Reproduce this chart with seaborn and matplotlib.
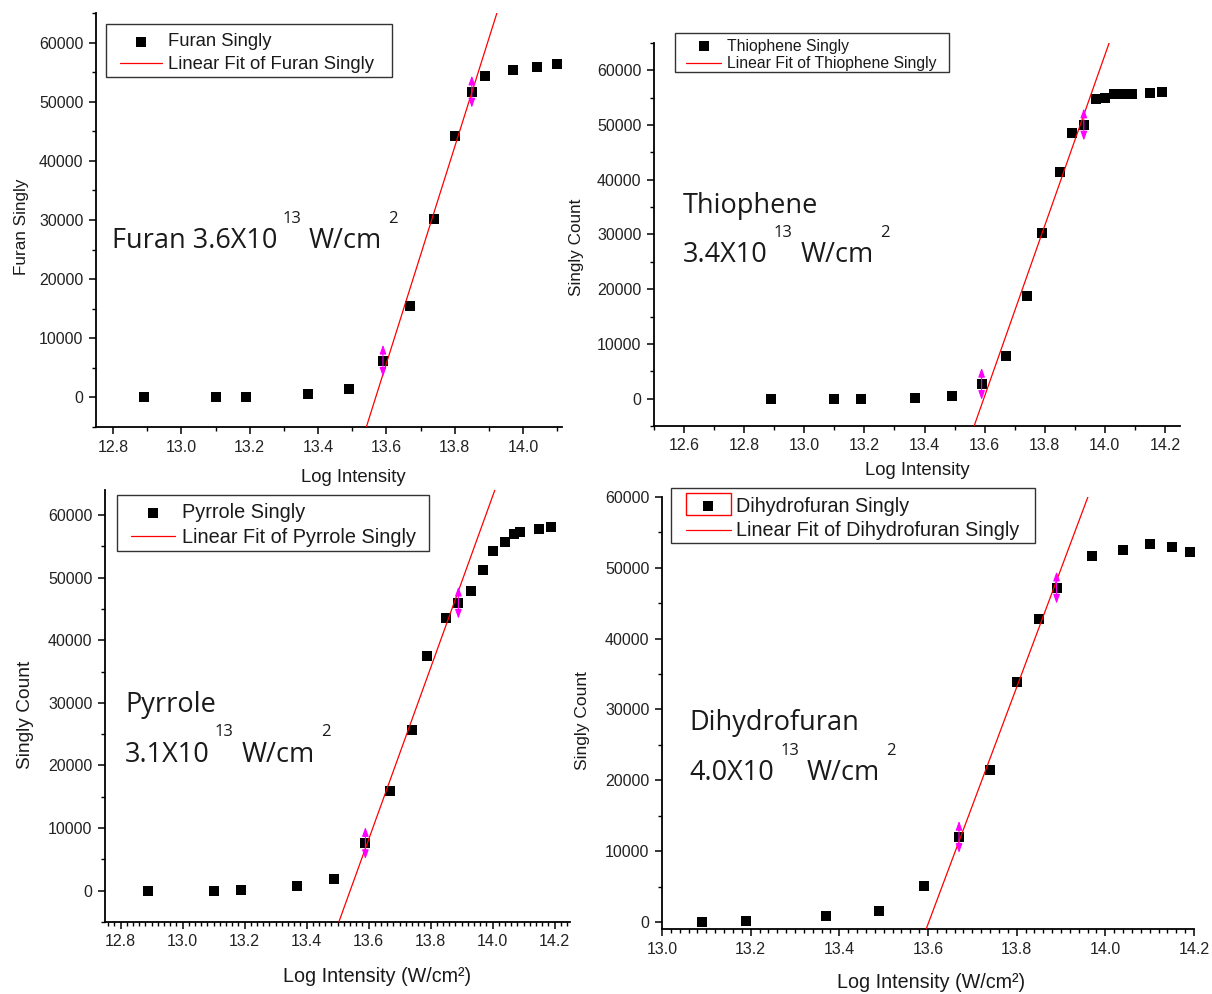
import numpy as np
import pandas as pd
import matplotlib
matplotlib.use("Agg")
import matplotlib.pyplot as plt
import seaborn as sns
from matplotlib.ticker import MultipleLocator, FormatStrFormatter
from matplotlib.patches import Rectangle

# ---- measured single-ionisation counts vs. log10 laser intensity ----
furan_x = [12.89, 13.10, 13.19, 13.37, 13.49, 13.59, 13.67, 13.74, 13.80, 13.85, 13.89, 13.97, 14.04, 14.10]
furan_y = [0, 0, 100, 600, 1500, 6200, 15500, 30200, 44200, 51700, 54400, 55300, 55800, 56300]
furan_fit = (13.59, 13.85)

thio_x = [12.89, 13.10, 13.19, 13.37, 13.49, 13.59, 13.67, 13.74, 13.79, 13.85, 13.89, 13.93,
          13.97, 14.00, 14.03, 14.06, 14.09, 14.15, 14.19]
thio_y = [-100, -100, 0, 100, 500, 2700, 7800, 18700, 30300, 41400, 48500, 50100,
          54700, 55000, 55700, 55700, 55600, 55900, 56100]
thio_fit = (13.59, 13.93)

pyr_x = [12.89, 13.10, 13.19, 13.37, 13.49, 13.59, 13.67, 13.74, 13.79, 13.85, 13.89, 13.93,
         13.97, 14.00, 14.04, 14.07, 14.09, 14.15, 14.19]
pyr_y = [0, 0, 100, 700, 1800, 7600, 16000, 25600, 37500, 43500, 46000, 47900,
         51300, 54300, 55700, 56900, 57300, 57700, 58100]
pyr_fit = (13.59, 13.89)

dhf_x = [13.09, 13.19, 13.37, 13.49, 13.59, 13.67, 13.74, 13.80, 13.85, 13.89, 13.97, 14.04, 14.10, 14.15, 14.19]
dhf_y = [0, 100, 800, 1600, 5100, 12000, 21400, 33900, 42800, 47200, 51700, 52500, 53400, 52900, 52200]
dhf_fit = (13.67, 13.89)

# saturation intensities quoted on each panel
furan_note = ("Furan 3.6X10", "13", "W/cm", "2")
thio_note = ("Thiophene", "3.4X10", "13", "W/cm", "2")
pyr_note = ("Pyrrole", "3.1X10", "13", "W/cm", "2")
dhf_note = ("Dihydrofuran", "4.0X10", "13", "W/cm", "2")

W, H = 1212, 994
sns.set_theme(style="ticks")
plt.rcParams["font.family"] = ["Liberation Sans", "DejaVu Sans"]
plt.rcParams["axes.unicode_minus"] = False

fig = plt.figure(figsize=(W / 100, H / 100), dpi=100)
fig.patch.set_facecolor("white")


def fx(x):
    return x / W


def fy(y):
    return 1 - y / H


def axes_at(l, t, r, b):
    return fig.add_axes([fx(l), fy(b), (r - l) / W, (b - t) / H])


def frame_at(l, t, r, b, color="#333333", lw=1.0):
    fig.patches.append(Rectangle((fx(l), fy(b)), (r - l) / W, (b - t) / H,
                                 transform=fig.transFigure, facecolor="none",
                                 edgecolor=color, lw=lw, zorder=5))


NOTE_FONT = ["Open Sans", "DejaVu Sans"]
TXT = "#1a1a1a"


def draw_panel(ax, x, y, name, fit_rng, xlim, ylim, xminor, box_px, ms,
               tick_fs, ylabel, ylab_fs, ylab_xy, xlabel, xlab_fs, xlab_xy,
               leg_frame, leg_anchor, leg_fs, leg_kw):
    df = pd.DataFrame({"x": x, "y": y})
    sns.scatterplot(data=df, x="x", y="y", ax=ax, marker="s", color="black",
                    s=ms, linewidth=0, label=f"{name} Singly", zorder=2)

    # linear fit over the rising edge, between the two range markers
    sel = df[(df.x >= fit_rng[0] - 1e-9) & (df.x <= fit_rng[1] + 1e-9)]
    slope, icpt = np.polyfit(sel.x, sel.y, 1)
    xf = np.array(xlim)
    sns.lineplot(x=xf, y=slope * xf + icpt, ax=ax, color="red", lw=0.9,
                 label=f"Linear Fit of {name} Singly", zorder=3)

    ax.set_xlim(*xlim)
    ax.set_ylim(*ylim)

    # fit-range markers: small double-headed arrows on the end points
    l, t, r, b = box_px
    d = 16 * (ylim[1] - ylim[0]) / (b - t)
    for xv in fit_rng:
        yv = df.loc[(df.x - xv).abs().idxmin(), "y"]
        ax.annotate("", xy=(xv, yv + d), xytext=(xv, yv - d),
                    arrowprops=dict(arrowstyle="<|-|>,head_length=0.5,head_width=0.18",
                                    color="magenta", lw=0.8, mutation_scale=11,
                                    shrinkA=0, shrinkB=0), zorder=4)

    ax.xaxis.set_major_locator(MultipleLocator(0.2))
    ax.xaxis.set_minor_locator(MultipleLocator(xminor))
    ax.yaxis.set_major_locator(MultipleLocator(10000))
    ax.yaxis.set_minor_locator(MultipleLocator(5000))
    ax.xaxis.set_major_formatter(FormatStrFormatter("%.1f"))
    ax.yaxis.set_major_formatter(FormatStrFormatter("%d"))

    for s in ("top", "right"):
        ax.spines[s].set_visible(False)
    for s in ("left", "bottom"):
        ax.spines[s].set_linewidth(1.3)
        ax.spines[s].set_color("black")
    ax.tick_params(which="major", direction="out", length=5, width=1.1,
                   labelsize=tick_fs, labelcolor="#222222", color="black", pad=4)
    ax.tick_params(which="minor", direction="out", length=3, width=1.0, color="black")
    ax.grid(False)
    ax.set_facecolor("white")

    ax.set_ylabel(ylabel, fontsize=ylab_fs, color=TXT)
    ax.yaxis.set_label_coords(fx(ylab_xy[0]), fy(ylab_xy[1]), transform=fig.transFigure)
    ax.yaxis.label.set_va("center")
    ax.yaxis.label.set_rotation_mode("default")
    ax.set_xlabel(xlabel, fontsize=xlab_fs, color=TXT)
    ax.xaxis.set_label_coords(fx(xlab_xy[0]), fy(xlab_xy[1]), transform=fig.transFigure)
    ax.xaxis.label.set_va("center")

    # legend entries placed at the handle origin; its box is drawn separately
    handles, labels = ax.get_legend_handles_labels()
    leg = ax.legend(handles, labels, loc="upper left",
                    bbox_to_anchor=(fx(leg_anchor[0]), fy(leg_anchor[1])),
                    bbox_transform=fig.transFigure, borderaxespad=0, borderpad=0,
                    frameon=False, fontsize=leg_fs, scatterpoints=1, **leg_kw)
    for txt in leg.get_texts():
        txt.set_color(TXT)
    frame_at(*leg_frame)
    return ax


def note(x, y, s, size):
    fig.text(fx(x), fy(y), s, fontsize=size, family=NOTE_FONT, color=TXT,
             ha="left", va="baseline")


BIG, SUP = 19.5, 12
TICK_FS = 11.5

# ---------------- Furan ----------------
box1 = (96, 13, 562, 427)
ax1 = axes_at(*box1)
draw_panel(ax1, furan_x, furan_y, "Furan", furan_fit, (12.75, 14.114), (-5000, 65000), 0.1,
           box1, 55, TICK_FS, "Furan Singly", 12.3, (22, 227), "Log Intensity", 13.3, (353, 477),
           (106, 24, 392, 77), (120, 33.5), 13.3,
           dict(handlelength=2.27, handletextpad=0.31, labelspacing=0.3))
note(111.7, 248.3, furan_note[0], BIG)
note(283, 222.7, furan_note[1], SUP)
note(309, 248.3, furan_note[2], BIG)
note(388, 222.7, furan_note[3], SUP)

# ---------------- Thiophene ----------------
box2 = (654, 43, 1180, 426)
ax2 = axes_at(*box2)
draw_panel(ax2, thio_x, thio_y, "Thiophene", thio_fit, (12.5, 14.25), (-5000, 65000), 0.1,
           box2, 48, TICK_FS, "Singly Count", 12.3, (576, 247), "Log Intensity", 13.3, (917, 471),
           (675, 33, 949, 72), (686.4, 38.5), 11.3,
           dict(handlelength=2.21, handletextpad=0.35, labelspacing=0.18))
note(683, 212.7, thio_note[0], BIG)
note(683, 262.3, thio_note[1], BIG)
note(774, 236.7, thio_note[2], SUP)
note(801, 262.3, thio_note[3], BIG)
note(880, 236.7, thio_note[4], SUP)

# ---------------- Pyrrole ----------------
box3 = (105, 490, 570, 922)
ax3 = axes_at(*box3)
draw_panel(ax3, pyr_x, pyr_y, "Pyrrole", pyr_fit, (12.75, 14.25), (-5000, 64000), 0.02,
           box3, 52, TICK_FS, "Singly Count", 13.8, (25, 715), "Log Intensity (W/cm²)", 14.2, (377, 977),
           (117, 495, 429, 551), (130.7, 503), 14.3,
           dict(handlelength=2.23, handletextpad=0.34, labelspacing=0.29))
note(125, 711.7, pyr_note[0], BIG)
note(125, 762.3, pyr_note[1], BIG)
note(215, 736, pyr_note[2], SUP)
note(241.7, 762.3, pyr_note[3], BIG)
note(320.7, 736, pyr_note[4], SUP)

# ---------------- Dihydrofuran ----------------
box4 = (662, 497, 1194, 929)
ax4 = axes_at(*box4)
draw_panel(ax4, dhf_x, dhf_y, "Dihydrofuran", dhf_fit, (13.0, 14.2), (-1000, 60000), 0.02,
           box4, 52, TICK_FS, "Singly Count", 12.5, (583, 721), "Log Intensity (W/cm²)", 14.2, (931, 982),
           (671, 488, 1035, 543), (686.3, 496.5), 14.2,
           dict(handlelength=2.25, handletextpad=0.28, labelspacing=0.3))
note(689.4, 730, dhf_note[0], BIG)
note(689.4, 780, dhf_note[1], BIG)
note(780.5, 755, dhf_note[2], SUP)
note(807, 780, dhf_note[3], BIG)
note(886.4, 755, dhf_note[4], SUP)

# selection box around the first legend symbol
frame_at(686, 493, 731, 515, color="red", lw=1.0)

fig.savefig("out.png", dpi=100, facecolor="white")
